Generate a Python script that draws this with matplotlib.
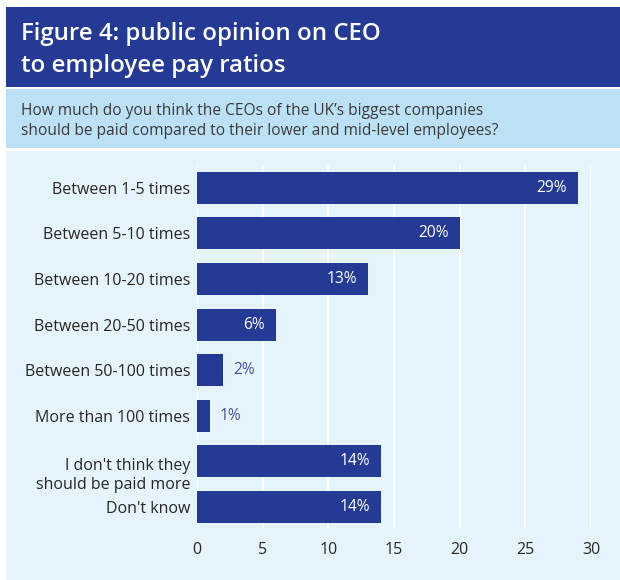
import numpy as np
import matplotlib
matplotlib.use('Agg')
import matplotlib.pyplot as plt
from matplotlib.patches import Rectangle
from matplotlib.transforms import ScaledTranslation

# ── Data ──
categories = ['Between 1-5 times', 'Between 5-10 times', 'Between 10-20 times',
              'Between 20-50 times', 'Between 50-100 times', 'More than 100 times',
              "I don't think they\nshould be paid more", "Don't know"]
values = [29, 20, 13, 6, 2, 1, 14, 14]
xticks = [0, 5, 10, 15, 20, 25, 30]

title = 'Figure 4: public opinion on CEO\nto employee pay ratios'
question = ("How much do you think the CEOs of the UK\u2019s biggest companies\n"
            "should be paid compared to their lower and mid-level employees?")

# ── Colours ──
navy = '#243a94'
band = '#bde1f4'
panel = '#e5f4fb'
text_c = '#262626'

plt.rcParams['font.family'] = ['Open Sans', 'DejaVu Sans']

W, H = 620, 580
fig = plt.figure(figsize=(W / 100, H / 100), dpi=100)
fig.patch.set_facecolor('white')

def px_rect(x0, y0, x1, y1, color):
    fig.patches.append(Rectangle((x0 / W, 1 - y1 / H), (x1 - x0) / W, (y1 - y0) / H,
                                 transform=fig.transFigure, facecolor=color,
                                 edgecolor='none', zorder=-5))

px_rect(6, 7, 620, 87, navy)
px_rect(6, 89, 620, 148, band)
px_rect(6, 151, 620, 580, panel)

fig.text(21 / W, 1 - 50 / H, title, color='white', fontsize=17.3, fontweight='semibold',
         va='center', ha='left', linespacing=1.4)
fig.text(21 / W, 1 - 121 / H, question, color='#3a3a3a', fontsize=11.2,
         va='center', ha='left', linespacing=1.3)

# ── Axes ──
ax_l, ax_r, ax_t, ax_b = 197, 591, 165, 528
ax = fig.add_axes([ax_l / W, 1 - ax_b / H, (ax_r - ax_l) / W, (ax_b - ax_t) / H])
ax.patch.set_alpha(0)

y = np.arange(len(categories))
ax.barh(y, values, height=0.7, color=navy, zorder=3)
ax.set_xlim(0, 30)
ax.set_ylim(7.46, -0.5)
ax.set_xticks(xticks)
ax.set_xticklabels([str(v) for v in xticks])
ax.set_yticks(y)
ax.set_yticklabels(categories)
ax.tick_params(axis='both', length=0, colors=text_c, labelsize=11.5)
ax.tick_params(axis='x', pad=10)
ax.tick_params(axis='y', pad=5)
# two-line label sits a bit lower than its bar
two = ax.get_yticklabels()[6]
two.set_transform(two.get_transform() + ScaledTranslation(0, -0.11, fig.dpi_scale_trans))

for s in ax.spines.values():
    s.set_visible(False)
ax.grid(axis='x', color='white', linewidth=1.2, zorder=1)
ax.set_axisbelow(True)

for yi, v in zip(y, values):
    if v >= 5:
        ax.annotate(f'{v}%', (v, yi), xytext=(-8, 0), textcoords='offset points',
                    ha='right', va='center', color='white', fontsize=11.2, zorder=4)
    else:
        ax.annotate(f'{v}%', (v, yi), xytext=(7, 0), textcoords='offset points',
                    ha='left', va='center', color='#4254a6', fontsize=11.2, zorder=4)

fig.savefig('out.png', dpi=100, facecolor='white')
